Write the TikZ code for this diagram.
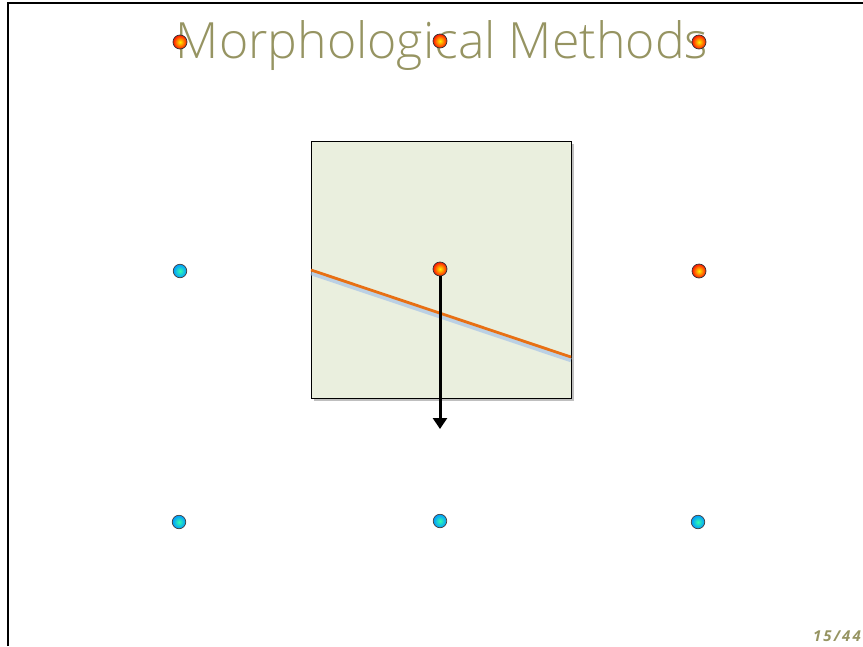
\documentclass[tikz,border=0pt]{standalone}
\usepackage{fontspec}
\setmainfont{Open Sans}
\newfontfamily\titlefont{Open Sans Light}
\newfontfamily\pgfont{Open Sans}[LetterSpace=14]
\usetikzlibrary{arrows.meta,shadows,shadings}
\definecolor{olivetxt}{RGB}{150,148,98}
\definecolor{boxfill}{RGB}{234,239,222}
\definecolor{lineorange}{RGB}{232,112,20}
\definecolor{lineblue}{RGB}{130,170,220}
\tikzset{
  reddot/.style={circle,draw=black!80,line width=0.7pt,minimum size=14pt,inner sep=0pt,
    inner color=yellow!90!orange,outer color=red!85!orange,shading=radial},
  bluedot/.style={circle,draw=black!75,line width=0.7pt,minimum size=13.5pt,inner sep=0pt,
    inner color=cyan!60!green!80!white,outer color=cyan!60!blue,shading=radial},
  framebox/.style={draw=black,line width=0.8pt,fill=boxfill,
    drop shadow={shadow xshift=3pt,shadow yshift=-3pt,opacity=0.5}},
}
\begin{document}
\begin{tikzpicture}[x=1pt,y=-1pt]
\useasboundingbox (0,0) rectangle (863,646);
% frame
\draw[line width=2pt] (8,646) -- (8,3) -- (863,3);
% title
\node[text=olivetxt,font=\titlefont\fontsize{50}{54}\selectfont,anchor=base] (title) at (442,58) {Morphological Methods};
% box
\path[framebox] (311,141) rectangle (571,398);
\coordinate (la) at (311,270);
\coordinate (lb) at (571,357);
\coordinate (lsa) at (311,273);
\coordinate (lsb) at (571,360);
\draw[lineblue!70,line width=4.5pt,opacity=0.7] (lsa) -- (lsb);
\draw[lineorange,line width=2.8pt] (la) -- (lb);
% dots
\node[reddot] (t1) at (180,42) {};
\node[reddot] (t2) at (440,41) {};
\node[reddot] (t3) at (699,42) {};
\node[bluedot] (m1) at (180,271) {};
\node[reddot] (c) at (440,269) {};
\node[reddot] (m3) at (699,271) {};
\node[bluedot] (b1) at (179,522) {};
\node[bluedot] (b2) at (440,521) {};
\node[bluedot] (b3) at (698,522) {};
\coordinate (arrend) at (440,429);
\draw[line width=3pt,-{Triangle[length=11pt,width=14pt]}] (c.south) -- (arrend);
% page number
\node[text=olivetxt,font=\pgfont\bfseries\itshape\fontsize{15}{17}\selectfont,anchor=east,inner sep=0pt] (pg) at (861,636) {15/44};
\end{tikzpicture}
\end{document}
